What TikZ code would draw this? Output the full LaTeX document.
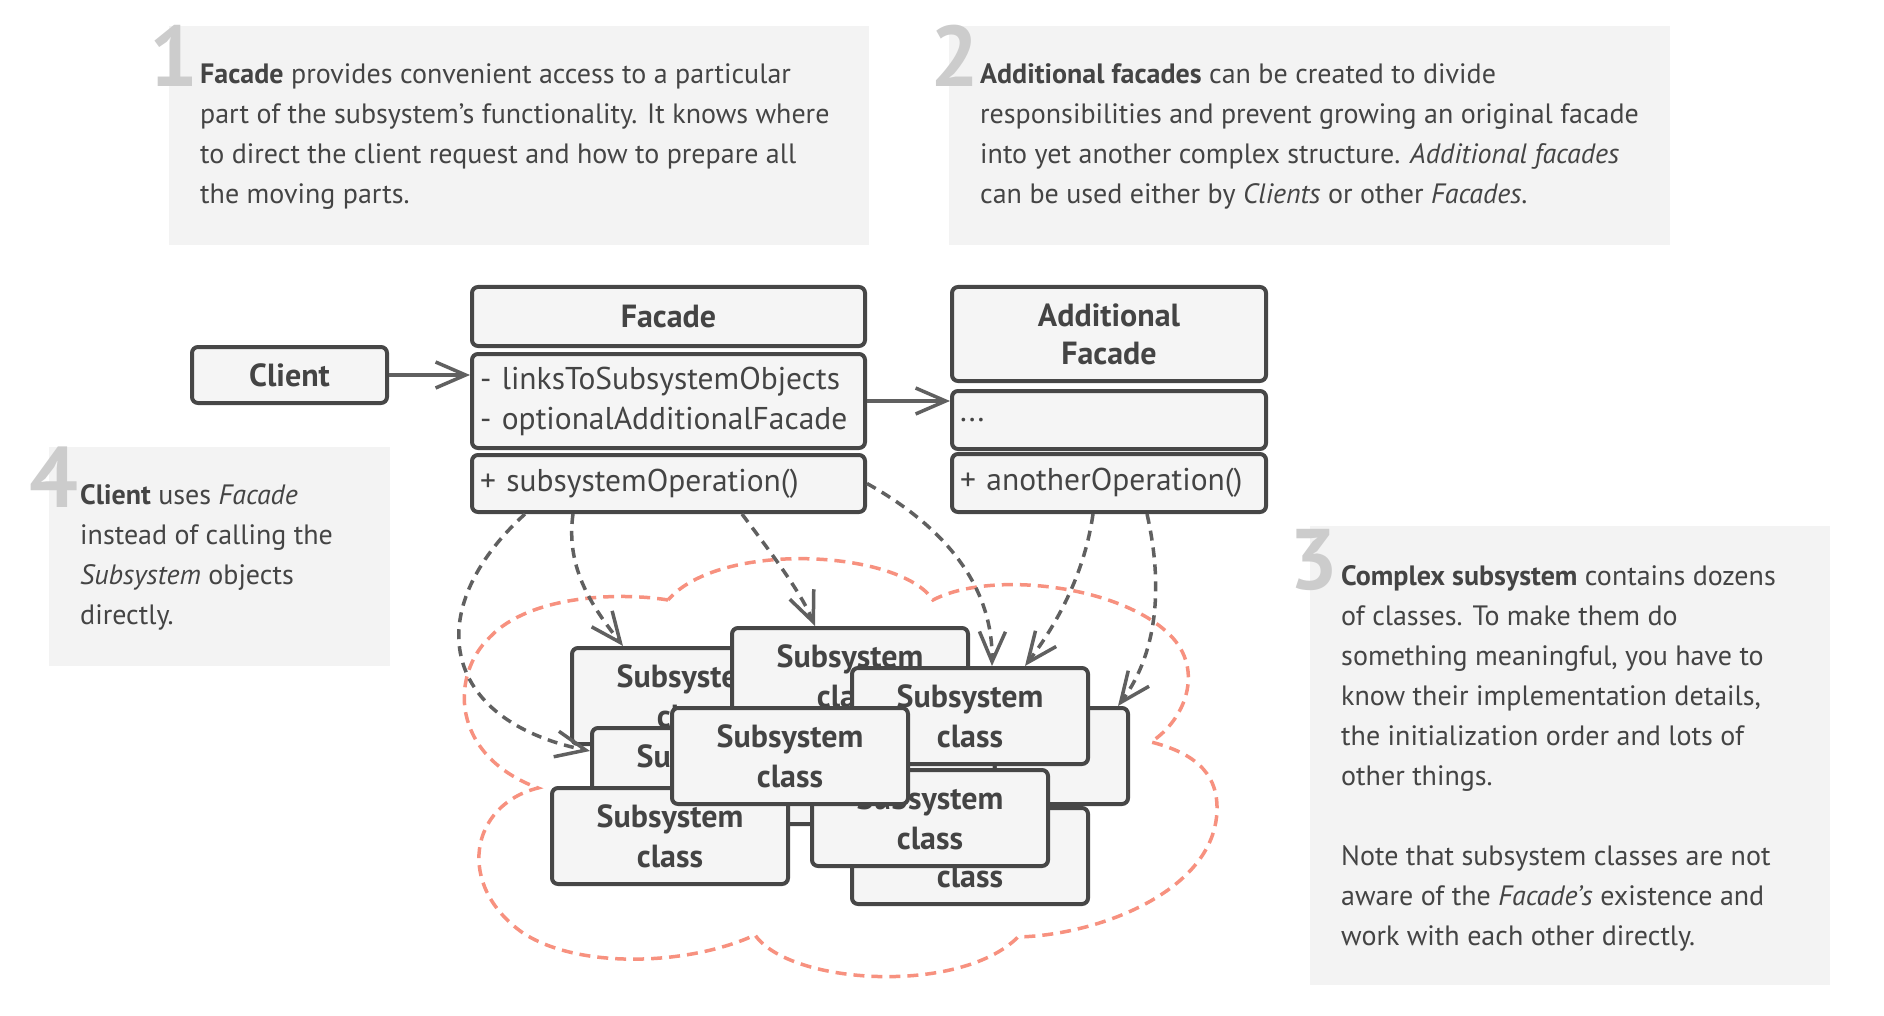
\documentclass[tikz,border=0pt]{standalone}
\usepackage{fontspec}
\setmainfont{PT Sans}
\usetikzlibrary{arrows.meta}
\definecolor{txt}{HTML}{444444}
\definecolor{bord}{HTML}{474747}
\definecolor{boxfill}{HTML}{F5F5F5}
\definecolor{notefill}{HTML}{F3F3F3}
\definecolor{digitc}{HTML}{CCCCCC}
\definecolor{arrc}{HTML}{606060}
\definecolor{cloudc}{HTML}{F7917F}
\newcommand{\ubold}{\fontsize{32}{38}\selectfont\bfseries}
\newcommand{\ureg}{\fontsize{31.5}{40}\selectfont}
\begin{document}
\begin{tikzpicture}[x=1pt,y=-1pt,
  notetext/.style={anchor=north west, inner sep=0pt, text=txt, align=left, font=\fontsize{28}{40}\selectfont},
  digitnode/.style={anchor=base west, inner sep=0pt, text=digitc, font=\fontsize{86}{86}\selectfont\bfseries},
  uml/.style={draw=bord, line width=4pt, fill=boxfill, rounded corners=6pt, inner sep=0pt, text=txt},
  subbox/.style={uml, minimum width=236pt, minimum height=96pt, align=center, font=\fontsize{32}{40}\selectfont\bfseries},
  conn/.style={draw=arrc, line width=3.5pt, -{Straight Barb[length=30pt,width=26pt]}},
  dconn/.style={conn, dash pattern=on 10pt off 7pt},
  cloudline/.style={draw=cloudc, line width=3.5pt, dash pattern=on 11pt off 7pt}
]
\useasboundingbox (0,0) rectangle (1884,1016);

% notes
\fill[notefill] (169,26) rectangle (869,245);
\node[digitnode] (d1) at (149,87) {1};
\node[notetext] (n1) at (200,63.5) {\textbf{Facade} provides convenient access to a particular\\part of the subsystem's functionality. It knows where\\to direct the client request and how to prepare all\\the moving parts.};

\fill[notefill] (949,26) rectangle (1670,245);
\node[digitnode] (d2) at (930,87) {2};
\node[notetext] (n2) at (980,63.5) {\textbf{Additional facades} can be created to divide\\responsibilities and prevent growing an original facade\\into yet another complex structure. \textit{Additional facades}\\can be used either by \textit{Clients} or other \textit{Facades}.};

\fill[notefill] (1310,526) rectangle (1830,985);
\node[digitnode] (d3) at (1289,589) {3};
\node[notetext] (n3) at (1341,565) {\textbf{Complex subsystem} contains dozens\\of classes. To make them do\\something meaningful, you have to\\know their implementation details,\\the initialization order and lots of\\other things.\\[40pt]Note that subsystem classes are not\\aware of the \textit{Facade's} existence and\\work with each other directly.};

\fill[notefill] (49,447) rectangle (390,666);
\node[digitnode] (d4) at (29,507) {4};
\node[notetext] (n4) at (80,484) {\textbf{Client} uses \textit{Facade}\\instead of calling the\\\textit{Subsystem} objects\\directly.};

% cloud
\draw[cloudline] (668,600) .. controls (620,592) and (530,595) .. (490,637)
  .. controls (450,675) and (450,755) .. (538,788)
  .. controls (470,805) and (455,885) .. (523,933)
  .. controls (580,970) and (690,965) .. (755,935)
  .. controls (790,985) and (960,995) .. (1018,937)
  .. controls (1100,935) and (1215,890) .. (1217,810)
  .. controls (1218,770) and (1190,752) .. (1151,742)
  .. controls (1185,720) and (1205,670) .. (1170,635)
  .. controls (1120,585) and (990,570) .. (933,600)
  .. controls (900,550) and (720,540) .. (668,600);

% client
\node[uml, minimum width=195pt, minimum height=56pt, font=\ubold] (client) at (289.5,375) {Client};

% facade
\node[uml, minimum width=393pt, minimum height=59pt, font=\ubold] (fhead) at (668.5,316.5) {Facade};
\node[uml, minimum width=393pt, minimum height=94pt, text width=377pt, align=left, font=\ureg] (ffields) at (668.5,401) {- linksToSubsystemObjects\\- optionalAdditionalFacade};
\node[uml, minimum width=393pt, minimum height=57pt, text width=377pt, align=left, font=\ureg] (fmeth) at (668.5,483.5) {+ subsystemOperation()};

% additional facade
\node[uml, minimum width=314pt, minimum height=94pt, align=center, font=\ubold] (ahead) at (1109,334) {Additional\\Facade};
\node[uml, minimum width=314pt, minimum height=58pt, text width=298pt, align=left, font=\ureg] (afields) at ([yshift=-2pt]1109,418) {...};
\node[uml, minimum width=314pt, minimum height=58pt, text width=298pt, align=left, font=\ureg] (ameth) at (1109,483) {+ anotherOperation()};

% subsystem classes (back to front)
\node[subbox] (subA) at (690,696) {Subsystem\\class};
\node[subbox] (subB) at (850,676) {Subsystem\\class};
\node[subbox] (subC) at (710,776) {Subsystem\\class};
\node[subbox] (subD) at (670,836) {Subsystem\\class};
\node[subbox] (subG) at (1010,756) {Subsystem\\class};
\node[subbox] (subI) at (970,856) {Subsystem\\class};
\node[subbox] (subF) at (970,716) {Subsystem\\class};
\node[subbox] (subH) at (930,818) {Subsystem\\class};
\node[subbox] (subE) at (790,756) {Subsystem\\class};

% connectors
\draw[conn] (client.east) -- (client.east -| ffields.west);
\draw[conn] (ffields.east) -- (ffields.east -| afields.west);

\draw[dconn] ([xshift=55pt]fmeth.south west) .. controls (420,610) and (440,720) .. ([yshift=25pt]subC.west);
\draw[dconn] ([xshift=103pt]fmeth.south west) .. controls (565,570) and (595,610) .. ([xshift=53pt]subA.north west);
\draw[dconn] ([xshift=272pt]fmeth.south west) .. controls (765,545) and (800,590) .. ([xshift=85pt]subB.north west);
\draw[dconn] (fmeth.east) .. controls (950,530) and (993,590) .. ([xshift=142pt]subF.north west);
\draw[dconn] ([xshift=143pt]ameth.south west) .. controls (1085,570) and (1060,620) .. ([xshift=175pt]subF.north west);
\draw[dconn] ([xshift=197pt]ameth.south west) .. controls (1162,580) and (1160,650) .. ([xshift=228pt]subG.north west);
\end{tikzpicture}
\end{document}
